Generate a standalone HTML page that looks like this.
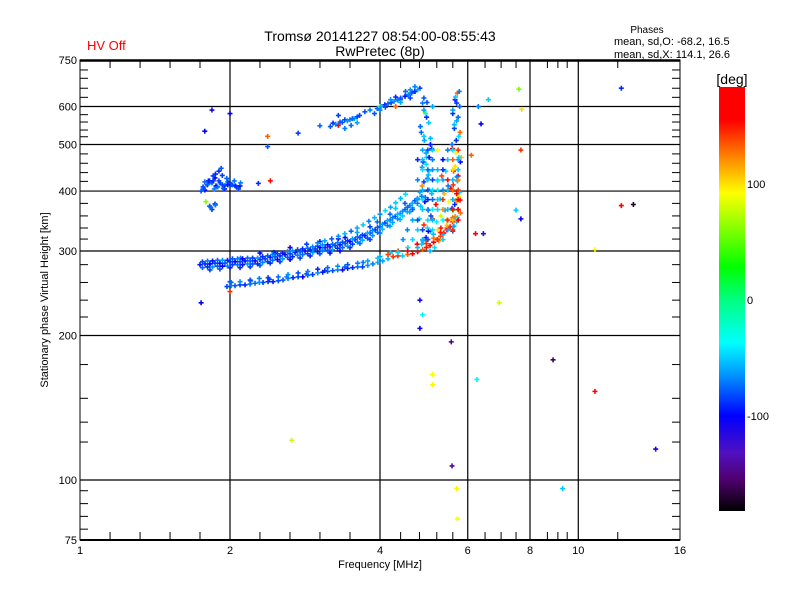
<!DOCTYPE html>
<html><head><meta charset="utf-8"><style>
body{margin:0;background:#fff;}
svg{display:block;font-family:"Liberation Sans",sans-serif;}
</style></head><body>
<svg id="chart" width="800" height="600" viewBox="0 0 800 600">
<defs>
<linearGradient id="cbg" x1="0" y1="0" x2="0" y2="1">
<stop offset="0" stop-color="#ff0000"/>
<stop offset="0.078" stop-color="#ff0000"/>
<stop offset="0.173" stop-color="#ff9000"/>
<stop offset="0.25" stop-color="#ffff00"/>
<stop offset="0.425" stop-color="#00ff00"/>
<stop offset="0.502" stop-color="#00ff80"/>
<stop offset="0.603" stop-color="#00ffff"/>
<stop offset="0.682" stop-color="#0090ff"/>
<stop offset="0.775" stop-color="#0000ff"/>
<stop offset="0.862" stop-color="#5010c0"/>
<stop offset="0.925" stop-color="#500070"/>
<stop offset="1" stop-color="#000000"/>
</linearGradient>
</defs>
<text x="380" y="41" font-size="14" text-anchor="middle">Tromsø 20141227 08:54:00-08:55:43</text>
<text x="380" y="56" font-size="14" text-anchor="middle">RwPretec (8p)</text>
<text x="87" y="50" font-size="13" fill="#ff0000">HV Off</text>
<text x="647" y="33" font-size="10" text-anchor="middle">Phases</text>
<text x="614" y="45" font-size="11">mean, sd,O: -68.2, 16.5</text>
<text x="614" y="58" font-size="11">mean, sd,X: 114.1, 26.6</text>
<g id="grid"></g>
<g id="marks"></g>
<rect x="80" y="60" width="600" height="480" fill="none" stroke="#000" stroke-width="1"/>
<line x1="80" y1="60.5" x2="680" y2="60.5" stroke="#000" stroke-width="2.5"/>
<line x1="80" y1="540" x2="680" y2="540" stroke="#000" stroke-width="2"/>
<g id="axes"></g>
<text x="380" y="568" font-size="11" text-anchor="middle">Frequency [MHz]</text>
<text transform="translate(48,300) rotate(-90)" font-size="11" text-anchor="middle">Stationary phase Virtual Height [km]</text>
<rect x="719" y="87" width="26" height="424" fill="url(#cbg)"/>
<text x="732" y="84" font-size="14" text-anchor="middle">[deg]</text>
<g id="cbar"></g>
</svg>
<script>
// ---- data ----
const xTickValues = [1, 2, 4, 6, 8, 10, 16];
const xTickLabels = ["1", "2", "4", "6", "8", "10", "16"];
const xGridValues = [2, 4, 6, 8, 10];
const xMinorValues = [1.149, 1.32, 1.516, 1.741, 2.297, 2.639, 3.031, 3.482, 4.4, 4.8, 5.2, 5.6, 6.5, 7, 7.5, 8.67, 9.1, 9.5, 12];
const yTickValues = [75, 100, 200, 300, 400, 500, 600, 750];
const yTickLabels = ["75", "100", "200", "300", "400", "500", "600", "750"];
const yGridValues = [100, 200, 300, 400, 500, 600];
const yMinorValues = [79, 84, 89.3, 95, 120, 132, 148, 174, 218.6, 237, 258, 281, 317.7, 335, 355, 377, 419, 437, 457, 478, 519, 536, 557, 577, 627, 655, 687, 715];
const cbarTickValues = [100, 0, -100];
const cbarTickLabels = ["100", "0", "-100"];

// frequency [MHz], virtual height [km], phase [deg]
const freqs = [
1.741,1.782,1.823,1.866,1.909,1.954,2.0,2.047,2.095,2.144,2.195,2.246,2.297,2.352,2.408,2.462,2.52,2.579,2.64,2.701,2.765,2.829,2.897,2.964,3.03,3.104,3.175,3.25,3.325,3.404,3.482,3.564,3.646,3.73,3.82,3.91,4.0,4.09,4.19,4.29,4.39,4.49,4.59,4.70,4.81,
1.823,1.909,2.0,2.095,2.195,2.297,2.408,2.52,2.64,2.765,2.897,3.03,3.175,3.325,3.482,3.646,3.82,4.0,4.19,4.39,4.59,
2.297,2.64,3.03,3.404,3.82,4.19,4.49,2.1,2.45,2.85,3.3,3.6,3.95,4.3,
1.972,2.047,2.144,2.246,2.33,2.44,2.555,2.676,2.80,2.93,3.07,3.215,3.365,3.525,3.69,3.87,4.05,4.25,4.44,4.65,4.87,5.04,5.21,5.37,5.53,5.66,5.74,5.79,
2.0,2.2,2.4,2.6,2.85,3.1,3.4,3.7,4.0,4.2,4.35,4.55,4.75,4.95,5.12,5.3,5.45,5.6,5.7,
4.85,4.95,5.05,4.9,4.8,5.0,4.92,5.08,4.86,4.98,5.02,4.88,4.95,5.05,4.9,4.82,4.96,5.1,4.9,5.0,4.85,4.95,5.05,4.92,
5.6,5.7,5.8,5.65,5.75,5.55,5.72,5.62,5.8,5.68,5.58,5.76,5.64,5.7,5.6,5.78,5.66,5.72,5.62,5.74,5.82,5.6,5.7,
5.15,5.25,5.35,5.45,5.2,5.3,5.4,5.18,5.28,5.38,5.48,5.22,5.32,5.42,5.1,5.5,
2.38,2.74,3.03,3.22,3.325,3.40,3.48,3.6,3.73,3.95,4.09,4.21,4.34,4.49,4.63,4.81,3.3,3.55,4.0,4.4,4.7,
1.766,1.80,1.84,1.875,1.91,1.947,1.98,2.02,2.06,2.095,1.78,1.866,1.9,1.93,1.82,1.866,1.84,1.79,1.95,2.0,
1.78,1.84,2.0,2.38,2.41,2.28,1.75,2.0,2.66,4.81,4.87,4.81,5.56,5.1,5.1,5.58,5.7,5.72,6.26,6.22,6.45,6.94,7.5,7.67,7.67,7.6,7.7,8.9,9.3,10.8,10.8,12.2,12.9,12.2,14.3,6.6,6.38,6.1,6.3
];
const heights = [
281,282,282,283,283,283,285,285,285,286,286,286,288,289,291,292,293,295,296,298,299,300,302,303,305,305,306,308,309,311,314,317,320,323,327,332,337,343,348,354,359,366,373,382,398,
274,275,277,277,278,280,283,285,288,290,293,296,297,300,305,311,317,327,338,349,362,
297,305,314,320,337,358,377,290,298,310,318,328,345,368,
253,254,255,257,258,259,261,264,265,268,271,273,274,277,278,282,286,292,293,296,302,308,317,327,337,354,366,383,
259,260,262,265,269,273,278,284,292,297,300,305,310,316,325,335,348,365,380,
310,320,330,340,350,365,380,395,410,425,440,460,480,500,520,545,570,600,625,330,390,455,515,585,
330,345,360,375,390,405,420,440,460,480,500,520,540,560,580,600,620,640,350,430,470,365,395,
305,315,325,335,345,355,365,375,385,395,410,420,430,440,350,380,
495,528,547,554,557,563,563,571,585,594,605,611,619,630,640,655,548,566,600,620,645,
408,412,416,410,416,410,418,412,408,410,402,426,440,431,372,376,366,380,404,414,
533,590,580,520,420,415,234,247,121,237,221,207,194,166,158,107,96,83,162,326,326,234,365,350,487,652,592,178,96,302,153,373,375,655,116,620,552,475,600
];
const phases = [
-95,-90,-100,-85,-95,-80,-90,-100,-85,-95,-80,-110,-90,-85,-95,-80,-90,-105,-85,-95,-80,-110,-90,-85,-100,-90,-115,-85,-95,-80,-100,-90,-85,-95,-80,-90,-75,-85,-70,-80,-65,-75,-70,-80,-60,
-85,-80,-95,-90,-85,-80,-90,-85,-100,-85,-90,-80,-95,-105,-90,-75,-85,-70,-60,-55,-65,
-100,-110,-90,-95,-85,-75,-80,-70,-90,-85,-110,-60,-75,-50,
-85,-80,-90,-75,-85,-95,-80,-90,-100,-85,-95,-80,-110,-90,-85,-70,-60,140,-50,150,130,155,140,160,145,120,135,150,
-80,-75,-85,-70,-80,-90,-75,-70,-60,-50,140,-45,155,135,-55,145,120,130,110,
-50,-90,-60,140,-45,-80,-100,-55,120,-70,-40,-85,-60,-95,-50,-75,-90,-60,-80,-100,-70,-45,-55,80,
-80,-50,130,-90,100,150,-60,140,-100,90,-70,-45,-85,-60,-90,-75,-95,130,-50,150,110,20,160,
-45,120,-55,140,-40,80,-60,150,-50,110,-70,-35,135,-45,140,90,
-80,-85,-75,-90,-80,-85,-70,-85,-80,-75,-90,-85,-70,-95,-80,-85,150,-60,60,-75,-90,
-85,-90,-80,-100,-85,-90,-95,-80,-85,-110,-95,-100,-90,-85,-80,-90,-85,60,-100,-95,
-100,-110,-100,130,175,-90,-100,140,80,-110,-40,-100,-150,90,95,-140,95,90,-40,170,-120,80,-50,-100,140,60,100,-160,-50,90,150,170,-170,-90,-110,-50,-100,130,-70
];

// second batch of echoes
const freqs2 = [
1.761,1.803,1.845,1.888,1.932,1.977,2.023,2.071,2.12,2.169,2.22,2.272,2.325,2.38,2.435,2.49,2.55,2.61,2.67,2.733,2.797,2.863,2.93,2.997,3.067,3.14,3.212,3.287,3.364,3.443,3.523,3.605,3.688,3.775,3.865,3.955,4.045,4.14,4.24,4.34,4.44,4.54,4.645,4.755,
1.761,1.803,1.845,1.888,1.932,1.977,2.023,2.071,2.12,2.169,2.22,2.272,2.325,2.38,2.435,2.49,2.55,2.61,2.67,2.733,2.797,2.863,2.93,2.997,3.067,3.14,3.212,3.287,3.364,3.443,3.523,3.605,3.688,3.775,3.865,3.955,4.045,4.14,4.24,4.34,4.44,4.54,4.645,4.755,
2.01,2.095,2.195,2.29,2.385,2.5,2.615,2.74,2.865,3.0,3.14,3.29,3.445,3.607,3.78,3.96,4.15,4.345,4.545,4.76,4.955,5.125,5.29,5.45,5.595,
2.01,2.095,2.195,2.29,2.385,2.5,2.615,2.74,2.865,3.0,3.14,3.29,3.445,3.607,3.78,3.96,4.15,4.345,4.545,4.76,4.955,5.125,5.29,5.45,5.595,
4.88,4.98,5.06,4.83,4.93,5.03,4.9,5.0,4.86,4.96,5.08,4.91,4.84,5.01,4.94,4.87,5.04,4.97,4.9,5.02,
5.63,5.73,5.58,5.68,5.78,5.61,5.71,5.66,5.76,5.59,5.69,5.79,5.64,5.74,5.6,5.7,5.67,5.77,
3.26,3.36,3.44,3.52,3.64,3.82,4.02,4.15,4.27,4.4,4.56,4.7,4.76,3.18,
1.77,1.81,1.85,1.89,1.93,1.97,2.01,2.05,1.83,1.87,1.81,1.85
];
const heights2 = [
277,278,278,279,279,279,281,281,281,282,282,282,284,285,287,288,289,291,292,294,295,296,298,299,301,301,302,304,305,307,310,313,316,319,323,328,333,339,344,350,355,362,369,377,
285,286,286,287,287,287,289,289,289,290,290,290,292,293,295,296,297,299,300,302,303,304,306,307,309,309,310,312,313,315,318,321,324,327,331,336,341,347,352,358,363,370,377,386,
254,255,256,258,259,260,263,265,267,270,272,274,276,278,280,284,289,293,295,299,305,313,322,332,345,
258,259,261,263,264,265,268,270,272,275,277,279,281,283,286,290,295,298,300,305,311,319,328,339,352,
315,335,355,372,388,402,418,432,448,470,490,510,530,555,580,610,300,612,590,470,
338,352,368,382,398,412,428,450,470,490,510,530,550,570,590,610,628,645,
551,556,560,566,575,590,600,608,615,625,635,645,650,545,
404,414,420,408,412,414,413,410,370,374,420,430
];
const phases2 = [
-75,-90,-65,-80,-100,-70,-85,-75,-95,-65,-80,-90,-70,-85,-75,-100,-65,-80,-90,-70,-75,-85,-65,-95,-70,-80,-60,-90,-75,-65,-85,-70,-60,-80,-65,-75,-55,-70,-60,-65,-50,-60,-55,-70,
-85,-70,-95,-75,-65,-90,-80,-70,-100,-75,-85,-65,-90,-80,-70,-85,-95,-70,-65,-80,-90,-75,-70,-85,-65,-95,-75,-70,-80,-90,-65,-75,-85,-60,-70,-80,-65,-60,-70,-55,-65,-75,-60,-65,
-70,-85,-75,-65,-90,-80,-70,-85,-75,-65,-80,-70,-90,-75,-65,-60,-55,140,130,150,145,155,135,150,140,
-75,-65,-80,-70,-85,-75,-65,-80,-70,-90,-75,-65,-80,-70,-60,-50,135,-45,150,-55,140,125,145,110,130,
-60,-45,-80,-50,-70,-40,-85,-55,-65,-45,-90,-60,-75,-50,-40,-70,-55,-80,-60,-95,
-60,-45,-85,120,-50,140,-70,100,-45,150,-90,130,-55,-75,-60,-85,-50,-70,
-70,-80,-65,-75,-85,-70,-60,-75,-65,-80,-70,-90,-60,-80,
-80,-70,-90,-75,-85,-65,-80,-90,-75,-70,-95,-85
];

// third batch: spread region between the columns, band thickening, upper branch, left cluster
const freqs3 = [
4.87,4.99,5.1,5.22,5.47,5.6,5.74,
4.76,4.87,5.1,5.35,5.47,5.6,5.74,
4.87,4.99,5.22,5.35,5.6,5.74,5.1,
4.76,4.99,5.1,5.22,5.35,5.47,5.6,5.74,
4.87,4.99,5.1,5.35,5.47,5.6,5.74,5.22,
4.76,4.87,5.1,5.22,5.35,5.6,5.74,4.99,
4.65,4.87,4.99,5.22,5.35,5.47,5.6,5.74,5.1,
4.65,4.76,4.99,5.1,5.35,5.47,5.6,5.74,
4.54,4.76,4.87,5.1,5.22,5.47,5.6,
4.45,4.65,4.87,4.99,5.22,5.35,
3.0,3.1,3.2,3.3,3.4,3.5,3.6,3.7,3.8,3.9,4.0,4.1,4.2,4.3,4.4,4.5,
4.0,4.1,4.2,4.3,4.4,4.5,4.6,4.7,4.3,4.6,3.9,3.5,3.4,3.3,3.6,
1.75,1.78,1.82,1.86,1.9,1.94,1.98,2.04,2.08,2.1,1.87,1.92,1.97
];
const heights3 = [
487,487,487,487,487,487,487,
465,465,465,465,465,465,465,
443,443,443,443,443,443,443,
422,422,422,422,422,422,422,422,
402,402,402,402,402,402,402,402,
384,384,384,384,384,384,384,384,
366,366,366,366,366,366,366,366,366,
348,348,348,348,348,348,348,348,
332,332,332,332,332,332,332,
317,317,317,317,317,317,
312,315,318,322,326,330,335,340,346,352,358,364,370,378,386,394,
590,598,620,628,612,645,625,660,600,650,580,548,540,575,555,
400,418,420,404,420,405,412,420,404,416,434,446,425
];
const phases3 = [
-60,-80,-50,90,-70,-45,140,
-90,-55,-70,-100,-50,130,-60,
-45,-75,-55,-90,100,-50,-65,
-70,-50,-85,-45,-60,150,-55,120,
-55,-80,-45,-65,-50,130,140,-40,
-60,-45,-75,-50,140,-55,150,-90,
-75,-50,-65,-45,120,-55,145,160,-40,
-60,-80,-45,-55,-40,140,110,150,
-70,-50,-85,-45,100,-60,140,
-65,-45,-55,-80,140,-50,
-70,-60,-80,-65,-55,-75,-60,-50,-70,-55,-65,-45,-60,-50,-55,-45,
-70,-80,-65,-90,-60,-75,-85,-70,130,-65,-80,-75,-70,-85,-60,
-80,-75,-90,-70,-85,-80,-95,-75,-85,-70,-90,-80,-75
];

// ---- scales ----
const X0 = 80, X1 = 680, Y0 = 540, Y1 = 60;
function xScale(f){ return X0 + (X1 - X0) * Math.log(f) / Math.log(16); }
function yScale(h){ return Y0 - (Y0 - Y1) * Math.log10(h / 75); }
function cbY(v){ return 300 - v * 1.16; }
const stopsV = [183,150,120,92,28,0,-37,-66,-100,-132,-155,-182];
const stopsC = [[255,0,0],[255,0,0],[255,144,0],[255,255,0],[0,255,0],[0,255,128],[0,255,255],[0,144,255],[0,0,255],[80,16,192],[80,0,112],[0,0,0]];
function colorOf(v){
  v = Math.max(-182, Math.min(183, v));
  for (let i = 0; i < stopsV.length - 1; i++){
    if (v <= stopsV[i] && v >= stopsV[i+1]){
      const t = (stopsV[i] - v) / (stopsV[i] - stopsV[i+1]);
      const a = stopsC[i], b = stopsC[i+1];
      return 'rgb(' + a.map((c,k)=>Math.round(c + (b[k]-c)*t)).join(',') + ')';
    }
  }
  return '#000';
}
const NS = 'http://www.w3.org/2000/svg';
function mk(tag, attrs, parent){
  const e = document.createElementNS(NS, tag);
  for (const k in attrs) e.setAttribute(k, attrs[k]);
  parent.appendChild(e);
  return e;
}
const grid = document.getElementById('grid');
const axes = document.getElementById('axes');
const marks = document.getElementById('marks');
const cbar = document.getElementById('cbar');

xGridValues.forEach(v => {
  const l = mk('line', {x1:xScale(v), x2:xScale(v), y1:Y1, y2:Y0, stroke:'#000', 'stroke-width':1.2}, grid);
  
  
});
yGridValues.forEach(v => {
  const l = mk('line', {x1:X0, x2:X1, y1:yScale(v), y2:yScale(v), stroke:'#000', 'stroke-width':1.2}, grid);
  
  
});
xMinorValues.forEach(v => {
  const x = xScale(v);
  const a = mk('line', {x1:x, x2:x, y1:Y0, y2:Y0-8, stroke:'#000'}, axes);
  
  
  const b = mk('line', {x1:x, x2:x, y1:Y1, y2:Y1+8, stroke:'#000'}, axes);
  
  
});
yMinorValues.forEach(v => {
  const y = yScale(v);
  const a = mk('line', {x1:X0, x2:X0+8, y1:y, y2:y, stroke:'#000'}, axes);
  
  
  const b = mk('line', {x1:X1, x2:X1-8, y1:y, y2:y, stroke:'#000'}, axes);
  
  
});
xTickValues.forEach((v, i) => {
  const t = mk('text', {x:xScale(v), y:554, 'font-size':11, 'text-anchor':'middle'}, axes);
  t.textContent = xTickLabels[i];
  
  
});
yTickValues.forEach((v, i) => {
  const t = mk('text', {x:77, y:yScale(v)+4, 'font-size':11, 'text-anchor':'end'}, axes);
  t.textContent = yTickLabels[i];
  
  
});
cbarTickValues.forEach((v, i) => {
  const t = mk('text', {x:747, y:cbY(v)+4, 'font-size':11}, cbar);
  t.textContent = cbarTickLabels[i];
  
  
});
function drawPoints(fs, hs, ps){
  for (let i = 0; i < fs.length; i++){
    const x = xScale(fs[i]), y = yScale(hs[i]);
    const p = mk('path', {d:'M'+(x-2.5)+' '+y+'h5M'+x+' '+(y-2.5)+'v5', stroke:colorOf(ps[i]), 'stroke-width':1.6, fill:'none'}, marks);
    
    
  }
}
drawPoints(freqs, heights, phases);
drawPoints(freqs2, heights2, phases2);
drawPoints(freqs3, heights3, phases3);
</script>
</body></html>
